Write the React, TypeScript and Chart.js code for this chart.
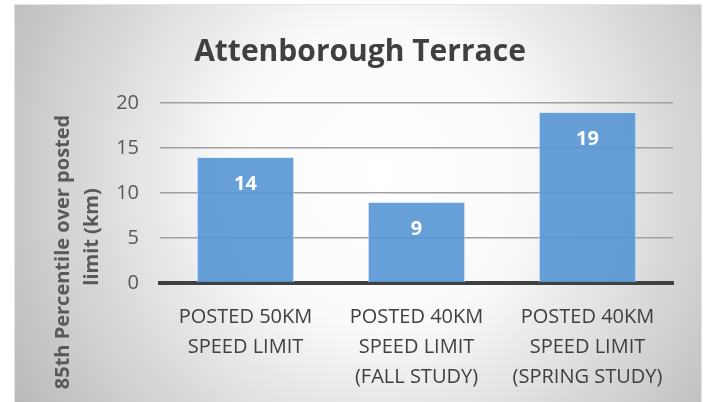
import React, { useEffect, useRef } from "react";
import { Chart, registerables } from "chart.js";

Chart.register(...registerables);

const chartTitle = "Attenborough Terrace";
const categories: string[][] = [
  ["POSTED 50KM", "SPEED LIMIT"],
  ["POSTED 40KM", "SPEED LIMIT", "(FALL STUDY)"],
  ["POSTED 40KM", "SPEED LIMIT", "(SPRING STUDY)"],
];
const values: number[] = [14, 9, 19];
const yTicks: number[] = [0, 5, 10, 15, 20];
const yTitleLines: string[] = ["85th Percentile over posted", "limit (km)"];

const FONT = "'Open Sans', 'Liberation Sans', sans-serif";

const backgroundPlugin = {
  id: "bgPlugin",
  beforeDraw(chart: any) {
    const { ctx, width, height } = chart;
    ctx.save();
    ctx.fillStyle = "#ffffff";
    ctx.fillRect(0, 0, width, height);
    const g = ctx.createRadialGradient(380, 175, 0, 380, 175, 430);
    g.addColorStop(0, "#ffffff");
    g.addColorStop(0.35, "#fafafa");
    g.addColorStop(1, "#b9b9b9");
    ctx.fillStyle = g;
    ctx.fillRect(14, 4, 688, 398);
    ctx.strokeStyle = "#e4e4e4";
    ctx.lineWidth = 1;
    ctx.strokeRect(14.5, 4.5, 687, 398);
    ctx.restore();
  },
};

const annotationPlugin = {
  id: "annotPlugin",
  afterDatasetsDraw(chart: any) {
    const { ctx } = chart;
    const meta = chart.getDatasetMeta(0);
    ctx.save();
    ctx.fillStyle = "#ffffff";
    ctx.font = `bold 20px ${FONT}`;
    ctx.textAlign = "center";
    ctx.textBaseline = "middle";
    meta.data.forEach((bar: any, i: number) => {
      ctx.fillText(String(values[i]), bar.x, bar.y + 27);
    });
    ctx.restore();
  },
  afterDraw(chart: any) {
    const { ctx } = chart;
    ctx.save();
    // chart title
    ctx.fillStyle = "#404040";
    ctx.font = `bold 30px ${FONT}`;
    ctx.textAlign = "center";
    ctx.textBaseline = "alphabetic";
    ctx.fillText(chartTitle, 360, 61);
    // y axis title
    ctx.fillStyle = "#595959";
    ctx.font = `bold 20px ${FONT}`;
    ctx.textBaseline = "middle";
    const pos = [
      [63.5, 252],
      [92, 237],
    ];
    yTitleLines.forEach((line, i) => {
      ctx.save();
      ctx.translate(pos[i][0], pos[i][1]);
      ctx.rotate(-Math.PI / 2);
      ctx.fillText(line, 0, 0);
      ctx.restore();
    });
    ctx.restore();
  },
};

export default function App() {
  const ref = useRef<HTMLCanvasElement | null>(null);
  useEffect(() => {
    if (!ref.current) return;
    const chart = new Chart(ref.current, {
      type: "bar",
      data: {
        labels: categories,
        datasets: [
          {
            data: values,
            backgroundColor: "rgba(86,150,212,0.9)",
            borderColor: "rgba(215,232,250,0.85)",
            borderWidth: 1,
            categoryPercentage: 1,
            barPercentage: 0.57,
          },
        ],
      },
      options: {
        responsive: false,
        animation: false,
        layout: { padding: { left: 14, top: 103, right: 35, bottom: 0 } },
        plugins: {
          legend: { display: false },
          tooltip: { enabled: false },
          title: { display: false },
        },
        scales: {
          x: {
            grid: { display: true, color: "rgba(0,0,0,0)", drawTicks: false },
            border: { display: true, color: "#404040", width: 4 },
            ticks: {
              color: "#404040",
              padding: 19,
              maxRotation: 0,
              autoSkip: false,
              font: { family: FONT, size: 20, lineHeight: 1.5 },
            },
            afterFit(scale: any) {
              scale.height = 119;
            },
          },
          y: {
            min: 0,
            max: 20,
            grid: {
              drawTicks: false,
              lineWidth: 1.5,
              color: (c: any) => (c.tick && c.tick.value === 0 ? "rgba(0,0,0,0)" : "#a0a0a0"),
            },
            border: { display: false },
            ticks: {
              color: "#595959",
              padding: 21,
              font: { family: FONT, size: 20 },
            },
            afterBuildTicks(scale: any) {
              scale.ticks = yTicks.map((v) => ({ value: v }));
            },
            afterFit(scale: any) {
              scale.width = 146;
            },
          },
        },
      },
      plugins: [backgroundPlugin, annotationPlugin],
    });
    return () => chart.destroy();
  }, []);
  return (
    <div style={{ position: "fixed", left: 0, top: 0, width: 708, height: 402 }}>
      <canvas ref={ref} width={708} height={402} style={{ width: 708, height: 402 }} />
    </div>
  );
}
